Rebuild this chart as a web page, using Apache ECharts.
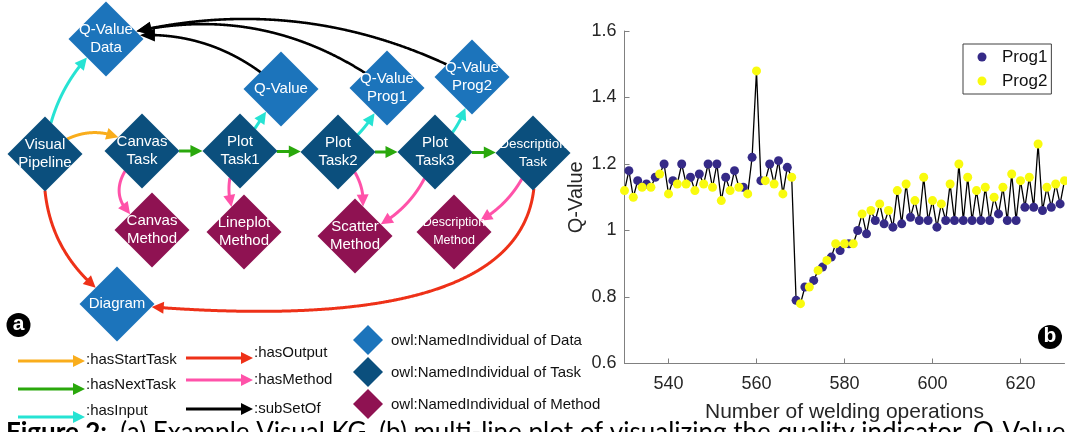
<!DOCTYPE html>
<html><head><meta charset="utf-8">
<script src="https://cdn.jsdelivr.net/npm/echarts@6/dist/echarts.min.js"></script>
<style>html,body{margin:0;padding:0;background:#fff;overflow:hidden}#c{width:1067px;height:432px}</style>
</head><body><div id="c"></div>
<script>
// ---------- chart (b) data ----------
const prog1X = [531,533,535,537,539,541,543,545,547,549,551,553,555,557,559,561,563,565,567,569,571,573,575,577,579,581,583,585,587,589,591,593,595,597,599,601,603,605,607,609,611,613,615,617,619,621,623,625,627,629];
const prog1Y = [1.18,1.15,1.14,1.16,1.20,1.15,1.20,1.16,1.17,1.20,1.20,1.16,1.18,1.13,1.22,1.15,1.20,1.21,1.19,0.79,0.83,0.85,0.89,0.92,0.94,0.96,1.00,0.99,1.03,1.02,1.01,1.02,1.04,1.03,1.03,1.01,1.03,1.03,1.03,1.03,1.03,1.03,1.05,1.03,1.03,1.07,1.07,1.06,1.07,1.08];
const prog2X = [530,532,534,536,538,540,542,544,546,548,550,552,554,556,558,560,562,564,566,568,570,572,574,576,578,580,582,584,586,588,590,592,594,596,598,600,602,604,606,608,610,612,614,616,618,620,622,624,626,628,630];
const prog2Y = [1.12,1.10,1.13,1.13,1.17,1.11,1.14,1.14,1.12,1.14,1.13,1.09,1.12,1.13,1.11,1.48,1.15,1.14,1.11,1.16,0.78,0.83,0.88,0.91,0.96,0.96,0.96,1.05,1.06,1.08,1.06,1.12,1.14,1.09,1.16,1.09,1.08,1.14,1.20,1.16,1.12,1.13,1.10,1.13,1.17,1.15,1.16,1.26,1.13,1.14,1.15];
const xTickValues = [540,560,580,600,620];
const yTickValues = [0.6,0.8,1,1.2,1.4,1.6];
const seriesNames = ['Prog1','Prog2'];

// ---------- diagram (a) data ----------
const nodeNames = ['Q-Value\nData','Visual\nPipeline','Canvas\nTask','Plot\nTask1','Q-Value','Q-Value\nProg1','Q-Value\nProg2','Plot\nTask2','Plot\nTask3','Description\nTask','Canvas\nMethod','Lineplot\nMethod','Scatter\nMethod','Description\nMethod','Diagram'];
const nodeTypes = ['Data','Task','Task','Task','Data','Data','Data','Task','Task','Task','Method','Method','Method','Method','Data'];
const nodeX = [106,45,142,240,281,387,472,338,435,533,152,244,355,454,117];
const nodeY = [39,154,151,151,89,88,77,152,152,153,230,232,236,232,304];
const edgeSource = [1,1,2,3,7,8,3,7,8,2,3,7,8,9,1,9,4,5,6];
const edgeTarget = [0,2,3,7,8,9,4,5,6,10,11,12,12,13,14,14,0,0,0];
const edgeRelation = ['hasInput','hasStartTask','hasNextTask','hasNextTask','hasNextTask','hasNextTask','hasInput','hasInput','hasInput','hasMethod','hasMethod','hasMethod','hasMethod','hasMethod','hasOutput','hasOutput','subSetOf','subSetOf','subSetOf'];
// bend across the chord, and shift along the chord, of each edge's control point
const edgeBend = [0.2,0.41,0,0,0,0,0,-0.15,-0.2,-0.7,-0.32,0.37,0.26,0.26,-0.3,0.43,-0.25,-0.25,-0.2];
const edgeShift = [0,0,0,0,0,0,0,0,0,0,0,0,0,0,0,-0.41,0,0,0];
const relationNames = ['hasStartTask','hasNextTask','hasInput','hasOutput','hasMethod','subSetOf'];
const typeNames = ['Data','Task','Method'];

// ---------- styles ----------
const FONT = 'Liberation Sans, Arial, Helvetica, sans-serif';
const relColor = {hasStartTask:'#f9ad1c', hasNextTask:'#2aa80c', hasInput:'#26e3d3', hasOutput:'#ee3118', hasMethod:'#ff52a9', subSetOf:'#000000'};
const typeColor = {Data:'#1c74bb', Task:'#0b4f7d', Method:'#8f1252'};
const NODE = 75, HALF = NODE / 2;

function arrowShapes(pts, color, lw, L, W) {
  const tip = pts[pts.length - 1];
  let k = pts.length - 1;
  while (k > 0 && Math.hypot(pts[k][0] - tip[0], pts[k][1] - tip[1]) < L) k--;
  const base = pts[k];
  const dx = tip[0] - base[0], dy = tip[1] - base[1];
  const d = Math.hypot(dx, dy) || 1;
  const ux = dx / d, uy = dy / d;
  const b = [tip[0] - ux * L, tip[1] - uy * L];
  const line = pts.slice(0, k + 1).concat([[b[0] + ux * 1, b[1] + uy * 1]]);
  return [
    {type: 'polyline', shape: {points: line}, style: {stroke: color, lineWidth: lw, fill: null}},
    {type: 'polygon', shape: {points: [tip, [b[0] - uy * W / 2, b[1] + ux * W / 2], [b[0] + uy * W / 2, b[1] - ux * W / 2]]}, style: {fill: color}}
  ];
}

function renderEdge(params, api) {
  const i = params.dataIndex;
  const p1 = api.coord([api.value(0), api.value(1)]);
  const p2 = api.coord([api.value(2), api.value(3)]);
  const c = edgeBend[i], s = edgeShift[i];
  const dx = p2[0] - p1[0], dy = p2[1] - p1[1];
  const cp = [(p1[0] + p2[0]) / 2 + c * dy + s * dx, (p1[1] + p2[1]) / 2 - c * dx + s * dy];
  const bz = t => [(1 - t) * (1 - t) * p1[0] + 2 * (1 - t) * t * cp[0] + t * t * p2[0],
                   (1 - t) * (1 - t) * p1[1] + 2 * (1 - t) * t * cp[1] + t * t * p2[1]];
  const inside = (p, q) => Math.abs(p[0] - q[0]) + Math.abs(p[1] - q[1]) <= HALF;
  const N = 600;
  let k0 = 0, k1 = N;
  for (let k = 0; k <= N; k++) { if (!inside(bz(k / N), p1)) { k0 = k; break; } }
  for (let k = N; k >= 0; k--) { if (!inside(bz(k / N), p2)) { k1 = k; break; } }
  const pts = [];
  for (let k = Math.max(0, k0 - 3); k <= k1; k++) pts.push(bz(k / N));
  const rel = edgeRelation[i];
  const black = rel === 'subSetOf';
  return {type: 'group', children: arrowShapes(pts, relColor[rel], black ? 2.6 : 3, black ? 15 : 12, black ? 13 : 12)};
}

// ---------- build series data ----------
const lineData = prog1X.map((x, i) => [x, prog1Y[i]]).concat(prog2X.map((x, i) => [x, prog2Y[i]])).sort((a, b) => a[0] - b[0]);
const nodeData = nodeNames.map((n, i) => {
  const fs = n.indexOf('Description') === 0 ? (nodeTypes[i] === 'Method' ? 12.5 : 13.5) : 15;
  return {name: n, value: [nodeX[i], nodeY[i]], itemStyle: {color: typeColor[nodeTypes[i]], opacity: 1}, label: {fontSize: fs}};
});
const edgeData = edgeSource.map((s, i) => [nodeX[s], nodeY[s], nodeX[edgeTarget[i]], nodeY[edgeTarget[i]]]);

// ---------- legend of diagram (graphic) ----------
const graphics = [];
const relLegendPos = {hasStartTask:[18, 361, 360], hasNextTask:[18, 389, 385], hasInput:[18, 417, 411], hasOutput:[186, 358, 353], hasMethod:[186, 380, 380], subSetOf:[186, 409, 409]};
relationNames.forEach(r => {
  const [x, y, ty] = relLegendPos[r];
  const pts = [];
  for (let k = 0; k <= 20; k++) pts.push([x + 67 * k / 20, y]);
  graphics.push({type: 'group', children: arrowShapes(pts, relColor[r], 3, 12, 12)});
  graphics.push({type: 'text', x: x + 68, y: ty, style: {text: ':' + r, fontSize: 15, fontFamily: FONT, fill: '#111', verticalAlign: 'middle'}});
});
const typeLegendY = {Data: 340, Task: 372, Method: 404};
typeNames.forEach(t => {
  const y = typeLegendY[t], x = 368, h = 15;
  graphics.push({type: 'polygon', shape: {points: [[x, y - h], [x + h, y], [x, y + h], [x - h, y]]}, style: {fill: typeColor[t]}});
  graphics.push({type: 'text', x: 391, y: y + 1, style: {text: 'owl:NamedIndividual of ' + t, fontSize: 15, fontFamily: FONT, fill: '#111', verticalAlign: 'middle'}});
});
[['a', 18.5, 325], ['b', 1050, 337]].forEach(([s, x, y]) => {
  graphics.push({type: 'circle', shape: {cx: x, cy: y, r: 12}, style: {fill: '#000'}});
  graphics.push({type: 'text', x: x, y: y - 1, style: {text: s, fontSize: 21, fontWeight: 'bold', fontFamily: FONT, fill: '#fff', align: 'center', verticalAlign: 'middle'}});
});
graphics.push({type: 'text', left: 6, top: 420, style: {
  rich: {b: {fontSize: 26, fontWeight: 'bold', fontFamily: 'Lato, ' + FONT, fill: '#000'}, n: {fontSize: 26, fontFamily: 'Lato, ' + FONT, fill: '#000'}},
  text: '{b|Figure 2:}{n|  (a) Example Visual KG, (b) multi-line plot of visualizing the quality indicator, Q-Value}'}});

const chart = echarts.init(document.getElementById('c'), null, {renderer: 'canvas'});
chart.setOption({
  animation: false,
  backgroundColor: '#fff',
  textStyle: {fontFamily: FONT},
  grid: [
    {left: 0, top: 0, width: 1067, height: 432},
    {left: 624.5, top: 31, width: 440, height: 332.5}
  ],
  xAxis: [
    {gridIndex: 0, type: 'value', min: 0, max: 1067, show: false},
    {gridIndex: 1, type: 'value', min: 530, max: 630,
     name: 'Number of welding operations', nameLocation: 'middle', nameGap: 38,
     nameTextStyle: {fontSize: 21, color: '#262626', fontFamily: FONT},
     axisLine: {show: true, lineStyle: {color: '#808080', width: 1}},
     axisTick: {show: true, inside: true, length: 5, customValues: xTickValues, lineStyle: {color: '#808080'}},
     axisLabel: {customValues: xTickValues, fontSize: 18, color: '#262626', margin: 12, fontFamily: FONT},
     splitLine: {show: false}}
  ],
  yAxis: [
    {gridIndex: 0, type: 'value', min: 0, max: 432, inverse: true, show: false},
    {gridIndex: 1, type: 'value', min: 0.6, max: 1.6, interval: 0.2,
     name: 'Q-Value', nameLocation: 'middle', nameGap: 38, nameRotate: 90,
     nameTextStyle: {fontSize: 20, color: '#262626', fontFamily: FONT},
     axisLine: {show: true, lineStyle: {color: '#808080', width: 1}},
     axisTick: {show: true, inside: true, length: 5, customValues: yTickValues, lineStyle: {color: '#808080'}},
     axisLabel: {customValues: yTickValues, fontSize: 18, color: '#262626', margin: 8, fontFamily: FONT},
     splitLine: {show: false}}
  ],
  legend: {
    data: seriesNames, orient: 'vertical', left: 963, top: 44,
    padding: [3, 4, 3, 14.5], itemGap: 4, itemWidth: 30, itemHeight: 9, icon: 'circle',
    borderColor: '#404040', borderWidth: 1, backgroundColor: '#fff',
    textStyle: {fontSize: 17, color: '#111', fontFamily: FONT, lineHeight: 20}
  },
  graphic: graphics,
  series: [
    {type: 'custom', name: 'edges', xAxisIndex: 0, yAxisIndex: 0, clip: false, renderItem: renderEdge,
     encode: {x: [0, 2], y: [1, 3]}, data: edgeData, silent: true, z: 2},
    {type: 'scatter', name: 'nodes', xAxisIndex: 0, yAxisIndex: 0, symbol: 'diamond', symbolSize: NODE,
     data: nodeData, silent: true, z: 3, itemStyle: {opacity: 1},
     label: {show: true, position: 'inside', formatter: '{b}', color: '#fff', lineHeight: 18, fontFamily: FONT}},
    {type: 'line', name: 'link', xAxisIndex: 1, yAxisIndex: 1, data: lineData, showSymbol: false, symbol: 'none',
     lineStyle: {color: '#000', width: 1.3}, z: 2, silent: true},
    {type: 'scatter', name: seriesNames[0], xAxisIndex: 1, yAxisIndex: 1, data: prog1X.map((x, i) => [x, prog1Y[i]]),
     symbolSize: 9, itemStyle: {color: '#352a87', opacity: 1}, z: 3},
    {type: 'scatter', name: seriesNames[1], xAxisIndex: 1, yAxisIndex: 1, data: prog2X.map((x, i) => [x, prog2Y[i]]),
     symbolSize: 9, itemStyle: {color: '#f9fb0e', opacity: 1}, z: 4}
  ]
});
</script></body></html>
